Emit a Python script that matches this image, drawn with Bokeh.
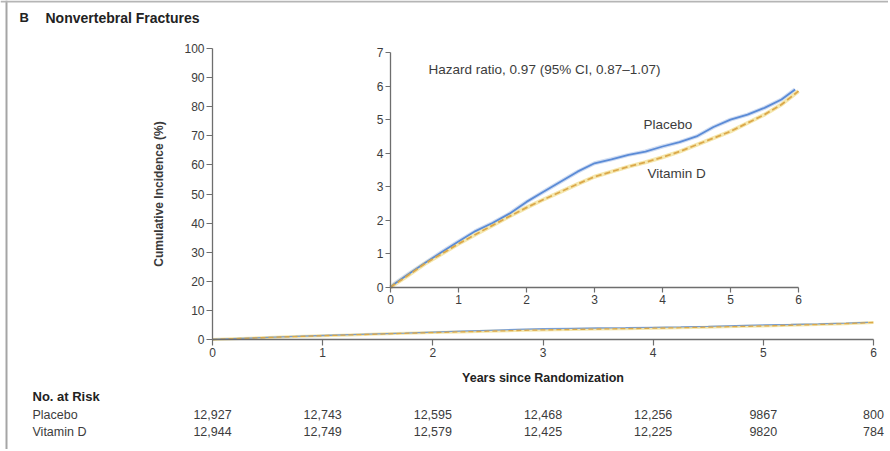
from bokeh.plotting import figure
from bokeh.models import Range1d, LinearAxis, Label, LabelSet, ColumnDataSource, FixedTicker, Span
from bokeh.core.properties import value
from bokeh.embed import file_html
from bokeh.resources import INLINE

# ---------------- data ----------------
years_placebo = [0, 0.05, 0.25, 0.5, 0.75, 1.0, 1.25, 1.5, 1.75, 2.0, 2.25, 2.5, 2.75,
                 3.0, 3.25, 3.5, 3.75, 4.0, 4.25, 4.5, 4.75, 5.0, 5.25, 5.5, 5.75, 5.95]
placebo = [0, 0.1, 0.38, 0.72, 1.05, 1.37, 1.68, 1.92, 2.2, 2.55, 2.85, 3.15, 3.45,
           3.7, 3.82, 3.95, 4.05, 4.2, 4.33, 4.5, 4.78, 5.0, 5.15, 5.35, 5.6, 5.9]
years_vitd = [0, 0.05, 0.25, 0.5, 0.75, 1.0, 1.25, 1.5, 1.75, 2.0, 2.25, 2.5, 2.75,
              3.0, 3.25, 3.5, 3.75, 4.0, 4.25, 4.5, 4.75, 5.0, 5.25, 5.5, 5.75, 6.0]
vitd = [0, 0.08, 0.35, 0.7, 1.0, 1.3, 1.58, 1.85, 2.12, 2.38, 2.62, 2.85, 3.08,
        3.3, 3.45, 3.6, 3.73, 3.88, 4.05, 4.25, 4.45, 4.65, 4.9, 5.15, 5.45, 5.85]

x_ticks = [0, 1, 2, 3, 4, 5, 6]
main_y_ticks = [0, 10, 20, 30, 40, 50, 60, 70, 80, 90, 100]
inset_y_ticks = [0, 1, 2, 3, 4, 5, 6, 7]

risk_years = [0, 1, 2, 3, 4, 5, 6]
risk_placebo = ["12,927", "12,743", "12,595", "12,468", "12,256", "9867", "800"]
risk_vitd = ["12,944", "12,749", "12,579", "12,425", "12,225", "9820", "784"]

title_letter = "B"
title_text = "Nonvertebral Fractures"
hr_text = "Hazard ratio, 0.97 (95% CI, 0.87\u20131.07)"

# ---------------- layout (page pixels) ----------------
W, H = 888, 449
X0, X6, Y0, Y100 = 212, 873, 339, 48        # main axes box
IX0, IX6, IY0, IY7 = 390, 798, 287, 52      # inset axes box

FONT = "Liberation Sans"
BLUE = "#5b8bd6"
ORANGE = "#dba84a"
HALO = "#f5e7ae"
AXIS = "#6e6e6e"
TXT = "#3c3c3c"
DARK = "#222222"

xu = (X6 - X0) / 6.0
yu = (Y0 - Y100) / 100.0
ixu = (IX6 - IX0) / 6.0
iyu = (IY0 - IY7) / 7.0

p = figure(width=W, height=H,
           x_range=Range1d(-X0 / xu, 6 + (W - X6) / xu),
           y_range=Range1d(-(H - Y0) / yu, 100 + Y100 / yu),
           x_axis_location=None, y_axis_location=None,
           output_backend="svg", toolbar_location=None, min_border=0)
p.outline_line_color = None
p.grid.visible = False
p.background_fill_color = "white"
p.border_fill_color = "white"
p.extra_x_ranges = {"ix": Range1d(-IX0 / ixu, 6 + (W - IX6) / ixu)}
p.extra_y_ranges = {"iy": Range1d(-(H - IY0) / iyu, 7 + IY7 / iyu)}


def mx(px):
    return (px - X0) / xu


def my(py):
    return (Y0 - py) / yu


def style_axis(ax, tick=6):
    ax.axis_line_color = AXIS
    ax.axis_line_width = 1.3
    ax.major_tick_line_color = AXIS
    ax.major_tick_line_width = 1.2
    ax.major_tick_out = tick
    ax.major_tick_in = 0
    ax.minor_tick_line_color = None
    ax.major_label_text_font = FONT
    ax.major_label_text_font_size = "12px"
    ax.major_label_text_color = TXT
    ax.major_label_standoff = 2


# main axes
xa = LinearAxis(fixed_location=0, bounds=(0, 6), ticker=FixedTicker(ticks=x_ticks))
ya = LinearAxis(fixed_location=0, bounds=(0, 100), ticker=FixedTicker(ticks=main_y_ticks))
style_axis(xa)
style_axis(ya)
xa.axis_label = "Years since Randomization"
xa.axis_label_text_font = FONT
xa.axis_label_text_font_size = "12.5px"
xa.axis_label_text_font_style = "bold"
xa.axis_label_text_color = DARK
xa.axis_label_standoff = 11
ya.axis_label = "Cumulative Incidence (%)"
ya.axis_label_text_font = FONT
ya.axis_label_text_font_size = "12px"
ya.axis_label_text_font_style = "bold"
ya.axis_label_text_color = "#3a3a3a"
ya.axis_label_standoff = 15
p.add_layout(xa, "below")
p.add_layout(ya, "left")

# inset axes
iax = LinearAxis(x_range_name="ix", y_range_name="iy", fixed_location=0,
                 bounds=(0, 6), ticker=FixedTicker(ticks=x_ticks))
iay = LinearAxis(x_range_name="ix", y_range_name="iy", fixed_location=0,
                 bounds=(0, 7), ticker=FixedTicker(ticks=inset_y_ticks))
style_axis(iax, 5)
style_axis(iay, 5)
p.add_layout(iax, "below")
p.add_layout(iay, "left")

# main curves
p.line(years_vitd, vitd, line_color=HALO, line_width=3)
p.line(years_placebo, placebo, line_color=BLUE, line_width=1.3, line_alpha=0.8)
p.line(years_vitd, vitd, line_color=ORANGE, line_width=1.3, line_dash="5 3")

# inset curves
p.line(years_placebo, placebo, x_range_name="ix", y_range_name="iy",
       line_color="#cfdcf2", line_width=4)
p.line(years_vitd, vitd, x_range_name="ix", y_range_name="iy",
       line_color=HALO, line_width=4)
p.line(years_placebo, placebo, x_range_name="ix", y_range_name="iy",
       line_color=BLUE, line_width=1.8)
p.line(years_vitd, vitd, x_range_name="ix", y_range_name="iy",
       line_color=ORANGE, line_width=1.8, line_dash="6 3")

# inset texts
p.add_layout(Label(x=0.56, y=6.5, x_range_name="ix", y_range_name="iy", text=hr_text,
                   text_font=FONT, text_font_size="13.5px", text_color=TXT,
                   text_baseline="middle"))
p.add_layout(Label(x=3.72, y=4.85, x_range_name="ix", y_range_name="iy", text="Placebo",
                   text_font=FONT, text_font_size="13.5px", text_color=TXT,
                   text_baseline="middle"))
p.add_layout(Label(x=3.78, y=3.41, x_range_name="ix", y_range_name="iy", text="Vitamin D",
                   text_font=FONT, text_font_size="13.5px", text_color=TXT,
                   text_baseline="middle"))

# title
p.add_layout(Label(x=mx(19), y=my(17), text=title_letter, text_font=FONT,
                   text_font_size="13px", text_font_style="bold", text_color=DARK,
                   text_baseline="middle"))
p.add_layout(Label(x=mx(45), y=my(17), text=title_text, text_font=FONT,
                   text_font_size="14px", text_font_style="bold", text_color=DARK,
                   text_baseline="middle"))

# number at risk table
p.add_layout(Label(x=mx(32), y=my(396), text="No. at Risk", text_font=FONT,
                   text_font_size="13px", text_font_style="bold", text_color=DARK,
                   text_baseline="middle"))
p.add_layout(Label(x=mx(32), y=my(414), text="Placebo", text_font=FONT,
                   text_font_size="12.5px", text_color=TXT, text_baseline="middle"))
p.add_layout(Label(x=mx(32), y=my(431), text="Vitamin D", text_font=FONT,
                   text_font_size="12.5px", text_color=TXT, text_baseline="middle"))

src_p = ColumnDataSource(dict(x=risk_years, y=[my(414)] * len(risk_years), t=risk_placebo))
src_v = ColumnDataSource(dict(x=risk_years, y=[my(431)] * len(risk_years), t=risk_vitd))
for src in (src_p, src_v):
    p.add_layout(LabelSet(x="x", y="y", text="t", source=src, text_font=value(FONT),
                          text_font_size=value("12.5px"), text_color=value(TXT),
                          text_align="center", text_baseline="middle"))

# image frame (left and top rules)
p.add_layout(Span(location=mx(6), dimension="height", line_color="#a5a5a5", line_width=2))
p.add_layout(Span(location=my(1), dimension="width", line_color="#b5b5b5", line_width=2))

open("out.html", "w").write(file_html(p, INLINE))
